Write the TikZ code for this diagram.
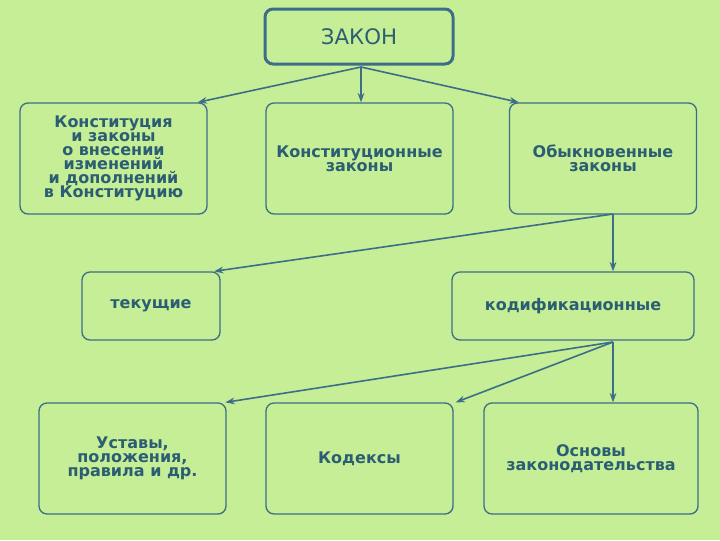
\documentclass[tikz,border=0pt]{standalone}
\usepackage{fontspec}
\setmainfont{DejaVu Sans}
\usetikzlibrary{arrows.meta}

\definecolor{bgGreen}{RGB}{197,238,151}
\definecolor{lineBlue}{RGB}{61,110,135}
\definecolor{textBlue}{RGB}{44,94,115}

\tikzset{every picture/.style={line width=0.75pt}}
\tikzset{
  box/.style={draw=lineBlue, rounded corners=6pt, line width=1pt, inner sep=0pt,
    align=center, text=textBlue, font=\fontsize{12}{10.5}\selectfont\bfseries},
  bigbox/.style={box, minimum width=140.25pt, minimum height=83.25pt},
  link/.style={draw=lineBlue, line width=1.2pt, -{Stealth[length=7pt,width=5pt]}},
}

\begin{document}
\begin{tikzpicture}[x=0.75pt,y=0.75pt,yscale=-1,xscale=1]
        %Background
        \fill [bgGreen] (0,0) rectangle (720,540) ;

        % Top node
        \node [box, line width=2.25pt, minimum width=141pt, minimum height=41.25pt,
          font=\fontsize{16}{18}\selectfont] (zakon) at (359,36.5) {ЗАКОН};

        % Row 1
        \node [bigbox] (konst) at (113.5,158.5) {Конституция\\и законы\\о внесении\\изменений\\и дополнений\\в Конституцию};
        \node [bigbox] (konstz) at (359.5,158.5) {Конституционные\\законы};
        \node [bigbox] (obyk) at (603,158.5) {Обыкновенные\\законы};

        % Row 2
        \node [box, minimum width=103.5pt, minimum height=51pt] (tek) at (151,306) {текущие};
        \node [box, minimum width=181.5pt, minimum height=51pt] (kodif) at (573,306) {кодификационные};

        % Row 3
        \node [bigbox] (ustav) at (132.5,458.5) {Уставы,\\положения,\\правила и др.};
        \node [bigbox] (kodeks) at (359.5,458.5) {Кодексы};
        \node [bigbox, minimum width=160.5pt] (osnov) at (591,458.5) {Основы\\законодательства};

        % Split points
        \coordinate (zsplit) at (361,67) ;
        \coordinate (osplit) at (613,214) ;
        \coordinate (ksplit) at (613,342) ;

        %Straight Lines
        \draw [link] (zsplit) -- ([xshift=-7.5pt]konst.north east) ;
        \draw [link] (zsplit) -- (zsplit |- konstz.north) ;
        \draw [link] (zsplit) -- ([xshift=7.5pt]obyk.north west) ;
        %Straight Lines
        \draw [link] (osplit) -- ([xshift=-5pt]tek.north east) ;
        \draw [link] (osplit) -- (osplit |- kodif.north) ;
        %Straight Lines
        \draw [link] (ksplit) -- ([xshift=-1pt]ustav.north east) ;
        \draw [link] (ksplit) -- ([xshift=1.5pt]kodeks.north east) ;
        \draw [link] (ksplit) -- (ksplit |- osnov.north) ;

    \end{tikzpicture}
\end{document}
